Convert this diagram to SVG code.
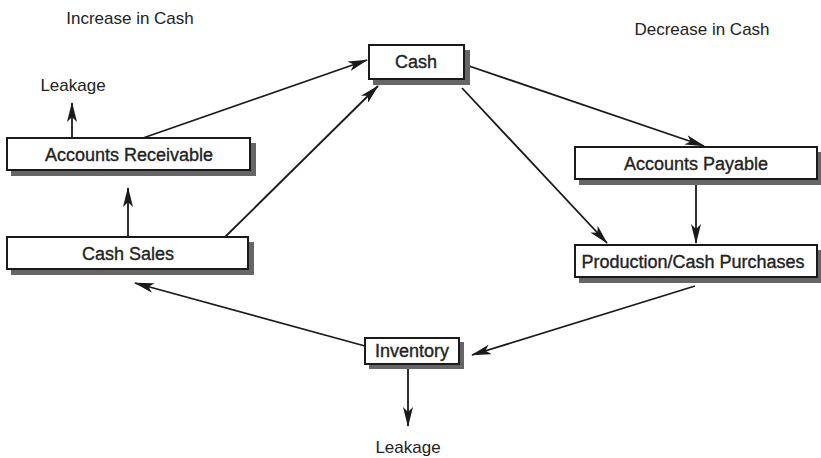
<svg xmlns="http://www.w3.org/2000/svg" width="821" height="458" viewBox="0 0 821 458">
<defs>
<style>
.box{fill:#fff;stroke:#1a1a1a;stroke-width:2}
.sh{fill:#666}
.t{font-family:"Liberation Sans",Arial,sans-serif;font-size:17px;fill:#222;text-anchor:middle}
.b{font-size:18px;stroke:#222;stroke-width:0.35}
.c{stroke:#1a1a1a;stroke-width:1.8;fill:none;marker-end:url(#ah)}
</style>
<marker id="ah" viewBox="0 0 20 10" refX="19" refY="5" markerWidth="20" markerHeight="10" markerUnits="userSpaceOnUse" orient="auto">
<path d="M0,0 L20,5 L0,10 L5,5 Z" fill="#1a1a1a"/>
</marker>
</defs>
<rect width="821" height="458" fill="#fff"/>
<text class="t" x="130" y="24">Increase in Cash</text>
<text class="t" x="702" y="35">Decrease in Cash</text>
<g id="connectors">
<line class="c" x1="143" y1="138" x2="367" y2="60"/>
<line class="c" x1="225" y1="237" x2="378" y2="86"/>
<line class="c" x1="466" y1="65" x2="704" y2="146"/>
<line class="c" x1="462" y1="88" x2="607" y2="243"/>
<line class="c" x1="696" y1="182" x2="696" y2="243"/>
<line class="c" x1="695" y1="286" x2="472" y2="355"/>
<line class="c" x1="365" y1="346" x2="135" y2="283"/>
<line class="c" x1="128" y1="237" x2="128" y2="188"/>
<line class="c" x1="72" y1="138" x2="72" y2="103"/>
<line class="c" x1="408" y1="364" x2="408" y2="426"/>
</g>
<g id="cash">
<rect class="sh" x="373" y="50" width="97" height="35"/>
<rect class="box" x="369" y="45" width="95" height="34"/>
<text class="t b" x="416" y="68">Cash</text>
</g>
<g id="accounts-receivable">
<rect class="sh" x="11" y="143" width="245" height="33"/>
<rect class="box" x="7" y="138" width="243" height="32"/>
<text class="t b" x="129" y="161">Accounts Receivable</text>
</g>
<g id="cash-sales">
<rect class="sh" x="11" y="242" width="243" height="33"/>
<rect class="box" x="7" y="237" width="241" height="32"/>
<text class="t b" x="128" y="260">Cash Sales</text>
</g>
<g id="accounts-payable">
<rect class="sh" x="579" y="152" width="242" height="33"/>
<rect class="box" x="575" y="147" width="242" height="32"/>
<text class="t b" x="696" y="170">Accounts Payable</text>
</g>
<g id="production">
<rect class="sh" x="579" y="250" width="242" height="33"/>
<rect class="box" x="575" y="245" width="242" height="32"/>
<text class="t b" x="693" y="268">Production/Cash Purchases</text>
</g>
<g id="inventory">
<rect class="sh" x="369" y="342" width="95" height="27"/>
<rect class="box" x="365" y="338" width="94" height="26"/>
<text class="t b" x="412" y="357">Inventory</text>
</g>
<g id="leakage-top">
<text class="t" x="73" y="91">Leakage</text>
</g>
<g id="leakage-bottom">
<text class="t" x="408" y="453">Leakage</text>
</g>
</svg>
